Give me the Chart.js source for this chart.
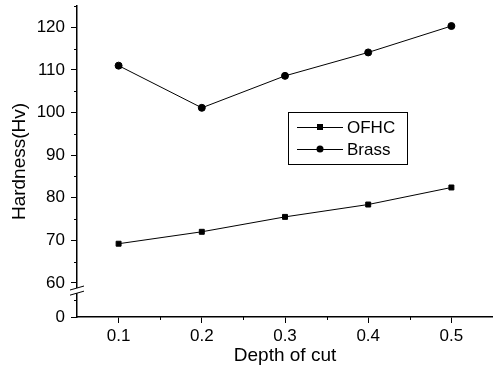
<!DOCTYPE html>
<html>
<head>
<meta charset="utf-8">
<script src="https://cdn.jsdelivr.net/npm/chart.js@4.4.0/dist/chart.umd.min.js"></script>
<style>
  html, body { margin: 0; padding: 0; background: #fff; }
  #wrap { width: 493px; height: 377px; position: relative; }
</style>
</head>
<body>
<div id="wrap"><canvas id="hardChart"></canvas></div>
<script>
const depth = [0.1, 0.2, 0.3, 0.4, 0.5];
const ofhc = [69.2, 72.0, 75.5, 78.4, 82.4];
const brass = [111.0, 101.1, 108.6, 114.1, 120.3];
const yTicks = [60, 70, 80, 90, 100, 110, 120];
const xTicks = [0.1, 0.2, 0.3, 0.4, 0.5];
// the axis is broken below 60: value 52 stands in for the "0" tick
const yZero = 52;

const FONT = "'Liberation Sans', Arial, sans-serif";

// minor ticks, break marks and the boxed legend
const extras = {
  id: 'extras',
  afterDraw(chart) {
    const ctx = chart.ctx;
    const xs = chart.scales.x, ys = chart.scales.y;
    const area = chart.chartArea;
    ctx.save();
    ctx.strokeStyle = '#000';
    ctx.lineWidth = 1;
    ctx.beginPath();
    [0.15, 0.25, 0.35, 0.45].forEach(function (v) {
      const px = Math.round(xs.getPixelForValue(v)) + 0.5;
      ctx.moveTo(px, area.bottom);
      ctx.lineTo(px, area.bottom + 3);
    });
    [56, 65, 75, 85, 95, 105, 115, 125].forEach(function (v) {
      const py = Math.round(ys.getPixelForValue(v)) + 0.5;
      ctx.moveTo(area.left, py);
      ctx.lineTo(area.left - 3, py);
    });
    ctx.stroke();

    // axis break
    const b1 = ys.getPixelForValue(58.8), b2 = ys.getPixelForValue(57.6);
    ctx.fillStyle = '#fff';
    ctx.fillRect(area.left - 2, b1, 4, b2 - b1);
    ctx.beginPath();
    [b1, b2].forEach(function (b) {
      ctx.moveTo(area.left - 7, b + 2);
      ctx.lineTo(area.left + 7, b - 2);
    });
    ctx.stroke();

    // legend
    const box = { x: 288, y: 112, w: 119, h: 52 };
    ctx.strokeRect(box.x + 0.5, box.y + 0.5, box.w, box.h);
    ctx.font = '17px ' + FONT;
    ctx.textBaseline = 'middle';
    ctx.fillStyle = '#000';
    chart.data.datasets.forEach(function (ds, i) {
      const y = box.y + 15 + i * 22;
      ctx.beginPath();
      ctx.moveTo(box.x + 9, y + 0.5);
      ctx.lineTo(box.x + 55, y + 0.5);
      ctx.stroke();
      ctx.beginPath();
      if (ds.pointStyle === 'rect') {
        ctx.fillRect(box.x + 29, y - 3, 6, 6);
      } else {
        ctx.arc(box.x + 32, y, 3.5, 0, Math.PI * 2);
        ctx.fill();
      }
      ctx.fillText(ds.label, box.x + 59, y + 1);
    });
    ctx.restore();
  }
};

new Chart(document.getElementById('hardChart'), {
  type: 'line',
  data: {
    datasets: [{
      label: 'OFHC',
      data: depth.map(function (d, i) { return { x: d, y: ofhc[i] }; }),
      borderColor: '#000',
      backgroundColor: '#000',
      borderWidth: 1,
      pointStyle: 'rect',
      pointRadius: 3.5,
      tension: 0
    }, {
      label: 'Brass',
      data: depth.map(function (d, i) { return { x: d, y: brass[i] }; }),
      borderColor: '#000',
      backgroundColor: '#000',
      borderWidth: 1,
      pointStyle: 'circle',
      pointRadius: 3.5,
      tension: 0
    }]
  },
  options: {
    responsive: true,
    maintainAspectRatio: false,
    animation: false,
    layout: { autoPadding: false, padding: { top: 6, right: 0, left: 0, bottom: 0 } },
    scales: {
      x: {
        type: 'linear',
        min: 0.05,
        max: 0.55,
        afterBuildTicks: function (axis) {
          axis.ticks = xTicks.map(function (v) { return { value: v }; });
        },
        afterFit: function (axis) {
          axis.height = 60;
          axis.paddingLeft = 0;
          axis.paddingRight = 0;
        },
        ticks: {
          color: '#000',
          font: { family: FONT, size: 17 },
          padding: 3,
          maxRotation: 0,
          callback: function (v) { return v.toFixed(1); }
        },
        grid: { drawOnChartArea: false, tickLength: 6, color: '#000' },
        border: { color: '#000', width: 1.5 },
        title: {
          display: true,
          text: 'Depth of cut',
          color: '#000',
          font: { family: FONT, size: 19 },
          padding: { top: 0, bottom: 10 }
        }
      },
      y: {
        min: yZero,
        max: 125,
        afterBuildTicks: function (axis) {
          axis.ticks = [yZero].concat(yTicks).map(function (v) { return { value: v }; });
        },
        afterFit: function (axis) {
          axis.width = 77;
          axis.paddingTop = 0;
          axis.paddingBottom = 0;
        },
        ticks: {
          color: '#000',
          font: { family: FONT, size: 17 },
          padding: 6,
          callback: function (v) { return v === yZero ? '0' : v; }
        },
        grid: { drawOnChartArea: false, tickLength: 6, color: '#000' },
        border: { color: '#000', width: 1.5 },
        title: {
          display: true,
          text: 'Hardness(Hv)',
          color: '#000',
          font: { family: FONT, size: 19 },
          padding: { top: 8, bottom: 0 }
        }
      }
    },
    plugins: {
      legend: { display: false },
      tooltip: { enabled: false }
    }
  },
  plugins: [extras]
});
</script>
</body>
</html>
